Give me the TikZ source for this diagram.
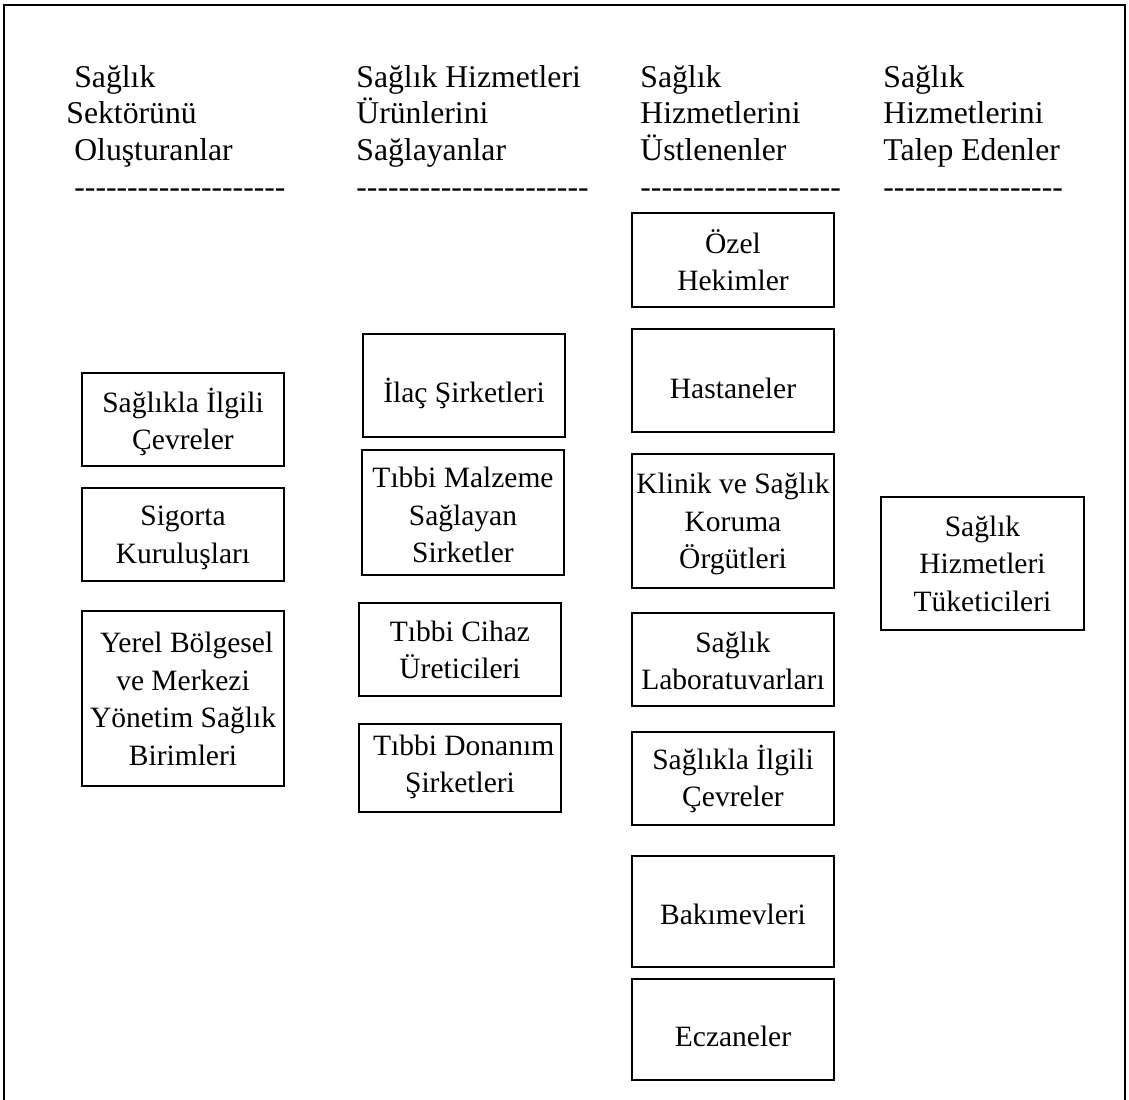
\documentclass[tikz,border=0pt]{standalone}
\usepackage{fontspec}
\setmainfont{Liberation Serif}
% hyphen rows must stay plain hyphens, not en/em dashes
\newfontfamily\rulefont{Liberation Serif}[Ligatures=TeXOff]
\usetikzlibrary{calc}
\begin{document}
\begin{tikzpicture}[x=0.5pt,y=-0.5pt,
  frame/.style={draw=black,line width=1pt},
  unit/.style 2 args={draw=black,line width=1pt,inner sep=0pt,
    minimum width=#1*0.5pt,minimum height=#2*0.5pt},
  unittext/.style={align=center,inner sep=0pt,
    font=\fontsize{14.75pt}{18.75pt}\selectfont},
  head/.style={align=left,anchor=north west,inner sep=0pt,
    font=\fontsize{15.85pt}{18.25pt}\selectfont},
  rule/.style={anchor=base west,inner sep=0pt,
    font=\rulefont\fontsize{15.85pt}{18.25pt}\selectfont}]

\useasboundingbox (0,0) rectangle (1129,1099);

% open outer frame (no bottom edge)
\draw[frame] (4,1102) -- (4,5) -- (1125,5) -- (1125,1102);

% column headings
\node[head] (h1) at (66,65) {\hspace*{0.25em}Sağlık\\Sektörünü\\\hspace*{0.25em}Oluşturanlar};
\node[head] (h2) at (356,65) {Sağlık Hizmetleri\\Ürünlerini\\Sağlayanlar};
\node[head] (h3) at (640,65) {Sağlık\\Hizmetlerini\\Üstlenenler};
\node[head] (h4) at (883,65) {Sağlık\\Hizmetlerini\\Talep Edenler};

% hyphen rules under the headings
\node[rule] (r1) at (74,197) {--------------------};
\node[rule] (r2) at (356,197) {----------------------};
\node[rule] (r3) at (640,197) {-------------------};
\node[rule] (r4) at (883,197) {-----------------};

% column 1
\node[unit={202}{93}]  (a1) at (183,419.5) {};
\node[unittext] (a1t) at ($(a1)+(0,2.5)$) {Sağlıkla İlgili\\Çevreler};
\node[unit={202}{93}]  (a2) at (183,534.5) {};
\node[unittext] (a2t) at ($(a2)+(0,3.5)$) {Sigorta\\Kuruluşları};
\node[unit={202}{175}] (a3) at (183,698.5) {};
\node[unittext] (a3t) at ($(a3)+(0,0.5)$) {\hspace*{0.25em}Yerel Bölgesel\\ve Merkezi\\Yönetim Sağlık\\Birimleri};

% column 2
\node[unit={202}{103}] (b1) at (464,385.5) {};
\node[unittext] (b1t) at ($(b1)+(0,7.5)$) {İlaç Şirketleri};
\node[unit={202}{125}] (b2) at (463,512.5) {};
\node[unittext] (b2t) at ($(b2)+(0,2.5)$) {Tıbbi Malzeme\\Sağlayan\\Sirketler};
\node[unit={202}{93}]  (b3) at (460,649.5) {};
\node[unittext] (b3t) at ($(b3)+(0,0.5)$) {Tıbbi Cihaz\\Üreticileri};
\node[unit={202}{88}]  (b4) at (460,768) {};
\node[unittext] (b4t) at ($(b4)+(0,-1)$) {\hspace*{0.25em}Tıbbi Donanım\\Şirketleri};

% column 3
\node[unit={202}{94}]  (c1) at (733,260) {};
\node[unittext] (c1t) at ($(c1)+(0,0)$) {Özel\\Hekimler};
\node[unit={202}{103}] (c2) at (733,380.5) {};
\node[unittext] (c2t) at ($(c2)+(0,7.5)$) {Hastaneler};
\node[unit={202}{134}] (c3) at (733,521) {};
\node[unittext] (c3t) at ($(c3)+(0,3)$) {Klinik ve Sağlık\\Koruma\\Örgütleri};
\node[unit={202}{93}]  (c4) at (733,659.5) {};
\node[unittext] (c4t) at ($(c4)+(0,1.5)$) {Sağlık\\Laboratuvarları};
\node[unit={202}{93}]  (c5) at (733,778.5) {};
\node[unittext] (c5t) at ($(c5)+(0,0.5)$) {Sağlıkla İlgili\\Çevreler};
\node[unit={202}{111}] (c6) at (733,911.5) {};
\node[unittext] (c6t) at ($(c6)+(0,2.5)$) {Bakımevleri};
\node[unit={202}{101}] (c7) at (733,1029.5) {};
\node[unittext] (c7t) at ($(c7)+(0,6.5)$) {Eczaneler};

% column 4
\node[unit={203}{133}] (d1) at (982.5,563.5) {};
\node[unittext] (d1t) at ($(d1)+(0,0)$) {Sağlık\\Hizmetleri\\Tüketicileri};

\end{tikzpicture}
\end{document}
